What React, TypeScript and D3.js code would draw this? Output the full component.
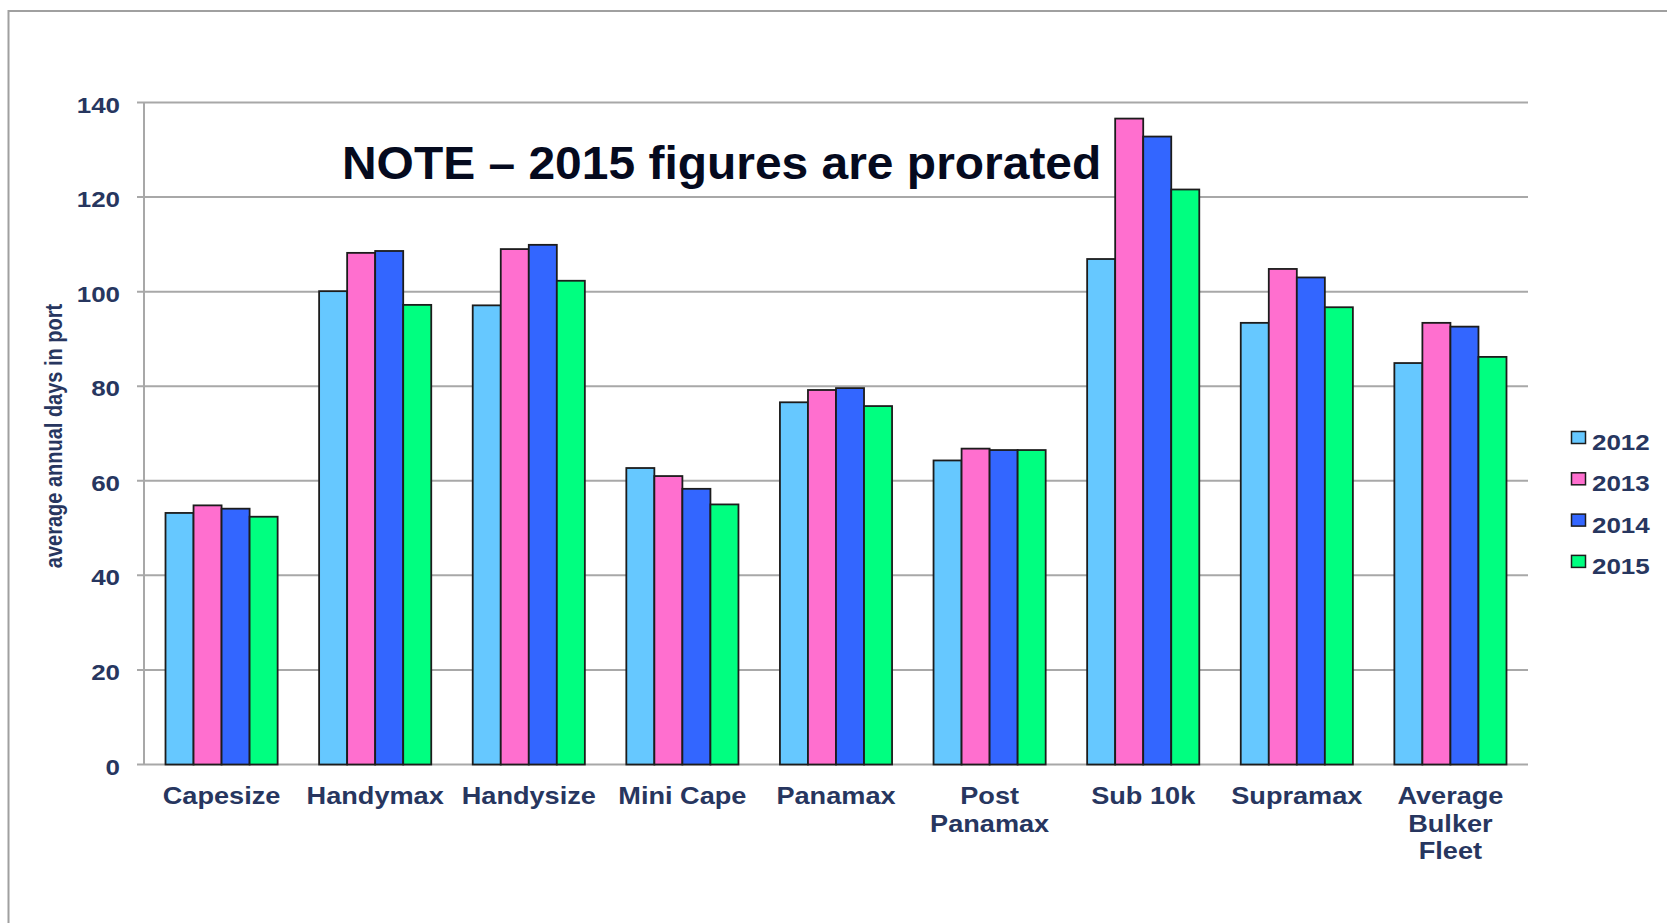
import * as d3 from "d3";

const W = 1667, H = 923;
const FONT = "'Liberation Sans', Arial, Helvetica, sans-serif";
const INK = "#27365f";
const SX = 1.18; // the source image is stretched sideways

const categories = ["Capesize", "Handymax", "Handysize", "Mini Cape", "Panamax", "Post\nPanamax", "Sub 10k", "Supramax", "Average\nBulker\nFleet"];
const years = ["2012", "2013", "2014", "2015"];
const colors = ["#66c8ff", "#ff6fcf", "#3366ff", "#00ff80"];

const v2012 = [53.2, 100.1, 97.1, 62.7, 76.6, 64.3, 106.9, 93.4, 84.9];
const v2013 = [54.8, 108.2, 109.0, 61.0, 79.2, 66.8, 136.6, 104.8, 93.4];
const v2014 = [54.1, 108.6, 109.9, 58.3, 79.6, 66.5, 132.8, 103.0, 92.6];
const v2015 = [52.4, 97.2, 102.3, 55.0, 75.8, 66.5, 121.6, 96.7, 86.2];
const series = [v2012, v2013, v2014, v2015];

const yTicks = [0, 20, 40, 60, 80, 100, 120, 140];

const left = 144, right = 1528, top = 102.5, bottom = 764.5;

export default function App() {
  const x0 = d3.scaleBand<string>().domain(categories).range([left, right]).paddingInner(0.27).paddingOuter(0.14);
  const x1 = d3.scaleBand<string>().domain(years).range([0, x0.bandwidth()]);
  const y = d3.scaleLinear().domain([0, 140]).range([bottom, top]);
  const color = d3.scaleOrdinal<string, string>().domain(years).range(colors);

  return (
    <svg width={W} height={H} style={{ position: "absolute", left: 0, top: 0, background: "#fff" }}>
      {/* frame */}
      <rect x={8.5} y={11} width={W} height={H} fill="none" stroke="#a0a0a0" strokeWidth={2} />

      {/* grid + ticks */}
      {yTicks.map((t) => (
        <g key={t}>
          <line x1={left - 7} x2={right} y1={y(t)} y2={y(t)} stroke="#a8a8a8" strokeWidth={2} />
          <text transform={`translate(120,${y(t) + 10}) scale(${SX},1)`} textAnchor="end"
            fontFamily={FONT} fontWeight="bold" fontSize={22} fill={INK}>{t}</text>
        </g>
      ))}
      <line x1={left} x2={left} y1={top} y2={bottom} stroke="#a8a8a8" strokeWidth={2} />

      {/* bars */}
      {categories.map((c, i) => (
        <g key={c} transform={`translate(${x0(c)},0)`}>
          {years.map((yr, j) => (
            <rect key={yr} x={x1(yr)} y={y(series[j][i])} width={x1.bandwidth()}
              height={bottom - y(series[j][i])} fill={color(yr)} stroke="#1c1c1c" strokeWidth={1.8} />
          ))}
        </g>
      ))}

      {/* category labels */}
      {categories.map((c) => (
        <text key={c} transform={`translate(${(x0(c) ?? 0) + x0.bandwidth() / 2},804) scale(${SX},1)`}
          textAnchor="middle" fontFamily={FONT} fontWeight="bold" fontSize={23} fill={INK}>
          {c.split("\n").map((line, k) => (
            <tspan key={k} x={0} dy={k === 0 ? 0 : 27.7}>{line}</tspan>
          ))}
        </text>
      ))}

      {/* y title */}
      <text transform={`translate(62,436) scale(${SX},1) rotate(-90)`} textAnchor="middle"
        fontFamily={FONT} fontWeight="bold" fontSize={20} fill={INK}>average annual days in port</text>

      {/* note */}
      <text transform="translate(342,179) scale(1.02,1)" fontFamily={FONT} fontWeight="bold" fontSize={47} fill="#050a1e">
        NOTE – 2015 figures are prorated
      </text>

      {/* legend */}
      {years.map((yr, j) => (
        <g key={yr} transform={`translate(1571,${450 + j * 41.3})`}>
          <rect x={0.5} y={-18.5} width={14} height={12} fill={color(yr)} stroke="#1c1c1c" strokeWidth={1.5} />
          <text transform={`translate(21,0) scale(${SX},1)`} fontFamily={FONT} fontWeight="bold" fontSize={22} fill={INK}>{yr}</text>
        </g>
      ))}
    </svg>
  );
}
